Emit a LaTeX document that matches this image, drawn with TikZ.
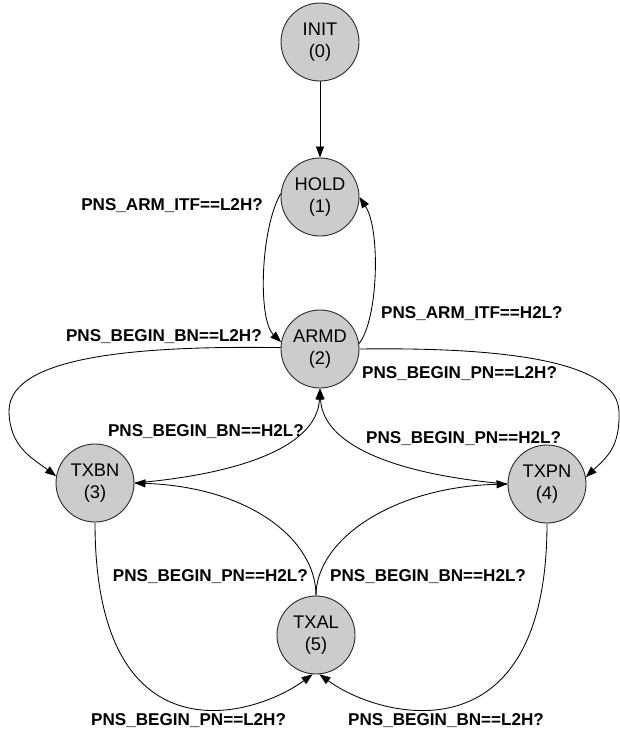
\documentclass[tikz,border=0pt]{standalone}
\usepackage{fontspec}
\setmainfont{Liberation Sans}
\usetikzlibrary{arrows.meta,shapes.geometric}
\definecolor{statefill}{RGB}{204,204,204}
\definecolor{statedraw}{RGB}{40,40,40}

\begin{document}
\begin{tikzpicture}[x=1pt,y=-1pt,
  state/.style={ellipse,draw=statedraw,line width=0.9pt,fill=statefill,
    minimum width=78pt,minimum height=78pt,inner sep=0pt,align=center,
    font=\fontsize{18.3}{22}\selectfont},
  trans/.style={draw=black,line width=0.85pt,-{Triangle[length=11pt,width=8pt]}},
  cond/.style={font=\bfseries\fontsize{17.1}{20}\selectfont,inner sep=0pt}]
\useasboundingbox (0,0) rectangle (620,731);

% states
\node[state] (INIT) at (320,42)  {INIT\\(0)};
\node[state] (HOLD) at (320,197) {HOLD\\(1)};
\node[state] (ARMD) at (320,349) {ARMD\\(2)};
\node[state] (TXBN) at (95,483)  {TXBN\\(3)};
\node[state] (TXPN) at (547,484) {TXPN\\(4)};
\node[state] (TXAL) at (316,635) {TXAL\\(5)};

% transitions
\draw[trans] (INIT) -- (HOLD);
\draw[trans] (HOLD.175) .. controls (260,230) and (258,320) .. (ARMD.170);
\draw[trans] (ARMD.8) .. controls (378,320) and (381,230) .. (HOLD.0);
\draw[trans] (ARMD.178) .. controls (110,345) and (8,362) .. (9,412)
  .. controls (10,447) and (32,458) .. (TXBN.170);
\draw[trans] (ARMD.0) .. controls (510,347) and (618,362) .. (619,412)
  .. controls (620,447) and (607,457) .. (TXPN.10);
\draw[trans] (TXBN.east) .. controls (230,475) and (317,450) .. (ARMD.south);
\draw[trans] (TXPN.west) .. controls (410,476) and (323,450) .. (ARMD.south);
\draw[trans] (TXAL.north) .. controls (316,540) and (250,487) .. (TXBN.east);
\draw[trans] (TXAL.north) .. controls (316,540) and (392,487) .. (TXPN.west);
\draw[trans] (TXBN.south) .. controls (95,760) and (250,720) .. (TXAL.265);
\draw[trans] (TXPN.south) .. controls (547,760) and (382,720) .. (TXAL.275);

% transition conditions
\node[cond,anchor=base east] (c1)  at (263,210) {PNS\_ARM\_ITF==L2H?};
\node[cond,anchor=base west] (c2)  at (381,318) {PNS\_ARM\_ITF==H2L?};
\node[cond,anchor=base east] (c3)  at (262,341) {PNS\_BEGIN\_BN==L2H?};
\node[cond,anchor=base west] (c4)  at (362,378) {PNS\_BEGIN\_PN==L2H?};
\node[cond,anchor=base east] (c5)  at (304,436) {PNS\_BEGIN\_BN==H2L?};
\node[cond,anchor=base west] (c6)  at (366,443) {PNS\_BEGIN\_PN==H2L?};
\node[cond,anchor=base east] (c7)  at (308,581) {PNS\_BEGIN\_PN==H2L?};
\node[cond,anchor=base west] (c8)  at (330,581) {PNS\_BEGIN\_BN==H2L?};
\node[cond,anchor=base west] (c9)  at (91,725)  {PNS\_BEGIN\_PN==L2H?};
\node[cond,anchor=base west] (c10) at (348,725) {PNS\_BEGIN\_BN==L2H?};
\end{tikzpicture}
\end{document}
